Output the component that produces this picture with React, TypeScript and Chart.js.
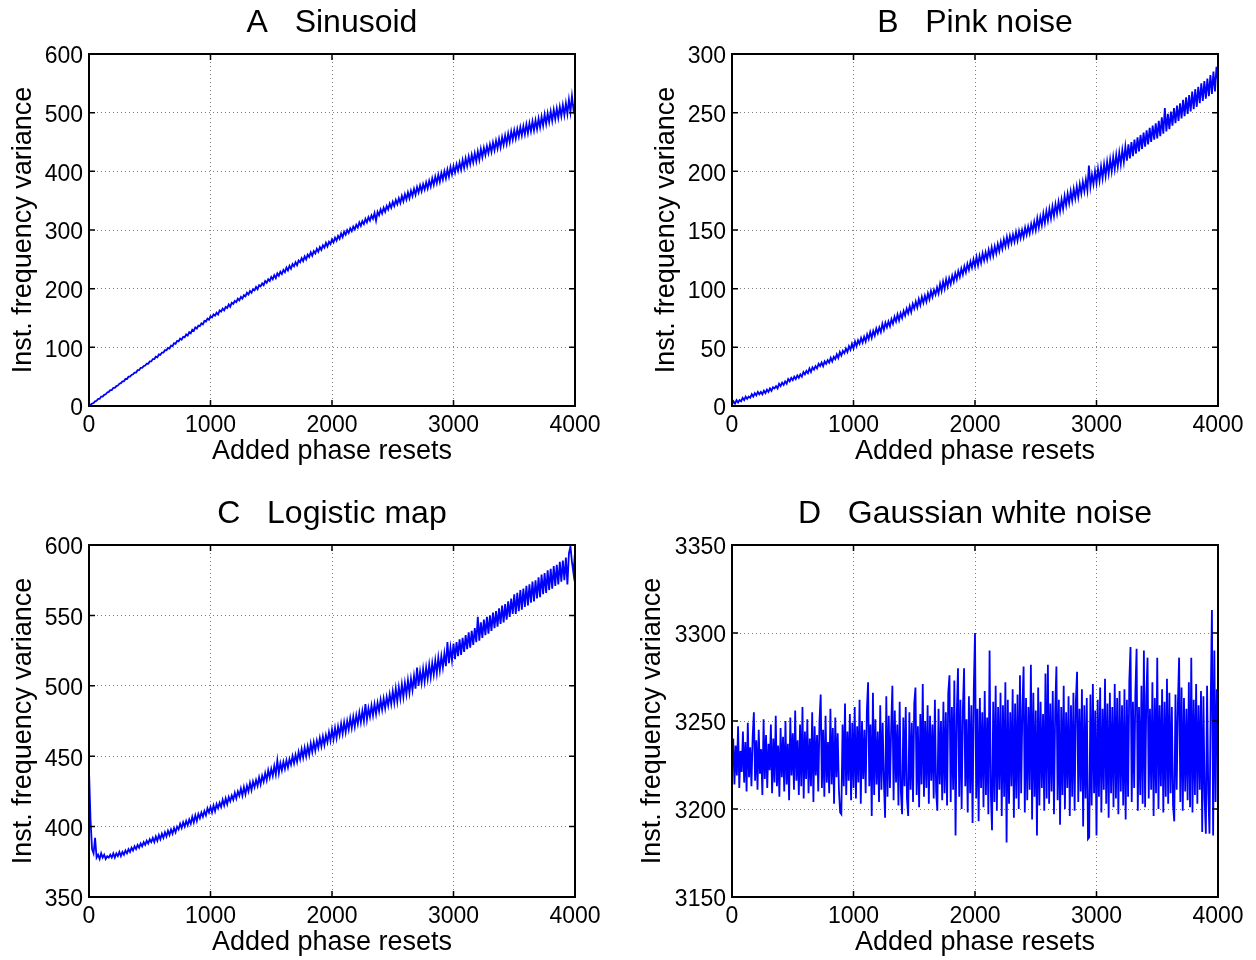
import React, { useEffect, useRef } from "react";
import { Chart, registerables } from "chart.js";

Chart.register(...registerables);

const FONT = '"Liberation Sans", Arial, Helvetica, sans-serif';

const X_MAX = 4000;
const X_STEP = 1000;
const X_LABEL = "Added phase resets";
const Y_LABEL = "Inst. frequency variance";

// Panel A: Sinusoid (samples every 12.5 phase resets)
const sinusoid = [
  0, 2, 4, 5, 8, 9, 12, 12, 16, 16, 19, 20, 23, 24, 27, 27, 31, 31, 34, 35,
  38, 39, 42, 42, 46, 46, 50, 50, 53, 54, 57, 57, 61, 61, 65, 65, 68, 69, 72, 72,
  76, 76, 80, 80, 84, 83, 88, 87, 91, 91, 95, 95, 99, 98, 103, 102, 107, 106, 111, 110,
  115, 113, 118, 117, 122, 120, 126, 124, 130, 128, 134, 132, 137, 136, 141, 139, 145, 144, 149, 147,
  153, 151, 156, 154, 159, 156, 163, 161, 166, 163, 169, 167, 173, 169, 176, 174, 179, 177, 183, 180,
  186, 183, 189, 187, 193, 190, 196, 193, 199, 197, 203, 199, 206, 204, 209, 206, 213, 210, 216, 213,
  220, 216, 223, 218, 226, 222, 229, 225, 232, 228, 236, 231, 239, 234, 242, 238, 245, 240, 248, 245,
  252, 247, 255, 250, 258, 254, 262, 256, 264, 260, 268, 263, 271, 266, 274, 270, 278, 272, 280, 276,
  284, 279, 287, 282, 290, 285, 294, 288, 297, 292, 300, 295, 303, 298, 306, 301, 309, 304, 313, 307,
  315, 310, 319, 313, 322, 316, 325, 319, 329, 316, 331, 325, 335, 328, 338, 331, 341, 335, 345, 338,
  348, 341, 351, 344, 354, 346, 358, 349, 361, 352, 364, 354, 367, 358, 370, 360, 373, 364, 376, 366,
  378, 369, 381, 371, 384, 374, 388, 377, 391, 380, 394, 382, 397, 386, 400, 388, 403, 391, 407, 395,
  409, 398, 412, 401, 415, 403, 419, 406, 422, 409, 425, 412, 428, 415, 431, 417, 434, 420, 438, 424,
  440, 428, 443, 431, 446, 433, 449, 436, 452, 439, 455, 441, 458, 445, 461, 447, 464, 450, 468, 454,
  470, 456, 472, 459, 475, 461, 477, 463, 480, 465, 482, 468, 485, 470, 487, 472, 490, 475, 493, 478,
  497, 481, 499, 484, 502, 486, 505, 489, 507, 491, 510, 494, 513, 496, 516, 498, 522, 501, 528, 505,
  516,
];

// Panel B: Pink noise (samples every 12.5 phase resets)
const pinkNoise = [
  1, 4, 2, 5, 3, 5, 4, 7, 5, 8, 6, 8, 7, 10, 8, 11, 9, 12, 10, 12,
  10, 13, 11, 14, 12, 15, 13, 16, 15, 17, 15, 19, 17, 20, 18, 21, 19, 23, 21, 24,
  22, 25, 23, 26, 24, 27, 25, 29, 27, 30, 28, 32, 29, 33, 31, 34, 32, 36, 34, 37,
  34, 38, 36, 39, 37, 41, 38, 42, 40, 44, 41, 46, 43, 47, 45, 49, 46, 51, 48, 53,
  49, 55, 51, 56, 53, 58, 54, 59, 55, 61, 57, 63, 58, 64, 60, 66, 62, 67, 63, 70,
  65, 71, 67, 72, 68, 74, 70, 76, 72, 78, 73, 79, 75, 81, 77, 83, 79, 85, 80, 87,
  83, 89, 84, 91, 86, 93, 88, 94, 89, 96, 91, 98, 93, 99, 95, 101, 96, 104, 98, 106,
  100, 108, 102, 109, 104, 111, 106, 113, 108, 115, 110, 117, 112, 119, 114, 121, 116, 123, 118, 125,
  119, 127, 120, 128, 122, 130, 124, 131, 125, 133, 127, 135, 128, 136, 130, 138, 132, 140, 134, 142,
  136, 144, 137, 145, 139, 146, 140, 148, 141, 149, 143, 150, 144, 152, 146, 153, 147, 155, 149, 157,
  150, 160, 152, 161, 154, 164, 156, 166, 158, 168, 160, 170, 162, 172, 164, 174, 166, 176, 168, 179,
  171, 181, 173, 183, 175, 185, 177, 187, 178, 189, 181, 191, 183, 193, 184, 205, 187, 197, 189, 200,
  190, 202, 192, 204, 194, 206, 196, 208, 198, 210, 200, 212, 202, 214, 204, 216, 206, 218, 208, 221,
  209, 223, 211, 225, 213, 227, 215, 229, 217, 231, 219, 233, 221, 235, 223, 237, 225, 239, 227, 241,
  228, 243, 230, 246, 232, 254, 234, 249, 236, 251, 239, 254, 241, 256, 243, 258, 245, 261, 247, 263,
  249, 265, 251, 268, 253, 270, 255, 272, 258, 275, 260, 277, 262, 279, 264, 282, 266, 285, 268, 289,
  277,
];

// Panel C: Logistic map (samples every 12.5 phase resets)
const logisticMap = [
  440, 405, 384, 381, 392, 378, 380, 377, 381, 378, 380, 377, 379, 378, 380, 378, 381, 378, 381, 379,
  382, 379, 382, 380, 383, 381, 384, 382, 385, 383, 386, 384, 387, 385, 388, 386, 389, 387, 390, 388,
  391, 389, 392, 389, 393, 390, 394, 391, 395, 392, 396, 393, 397, 394, 398, 395, 399, 396, 400, 398,
  402, 399, 403, 400, 404, 401, 405, 402, 407, 403, 408, 404, 409, 406, 410, 407, 411, 408, 413, 410,
  414, 410, 415, 411, 416, 413, 417, 414, 419, 415, 420, 416, 421, 418, 422, 419, 424, 420, 425, 422,
  427, 422, 428, 423, 429, 425, 431, 426, 432, 428, 433, 429, 435, 430, 436, 432, 438, 433, 440, 435,
  441, 436, 443, 437, 447, 438, 445, 440, 446, 441, 447, 442, 448, 444, 450, 445, 451, 446, 453, 448,
  455, 449, 456, 450, 457, 451, 459, 453, 460, 454, 461, 456, 463, 457, 464, 458, 465, 460, 467, 461,
  469, 462, 470, 463, 471, 465, 473, 466, 474, 467, 475, 469, 477, 470, 478, 471, 479, 473, 481, 474,
  482, 475, 487, 476, 484, 478, 486, 479, 487, 480, 488, 482, 490, 483, 491, 484, 492, 486, 494, 487,
  496, 488, 498, 489, 499, 491, 501, 492, 502, 494, 504, 495, 505, 497, 507, 498, 513, 500, 510, 502,
  512, 503, 513, 505, 515, 506, 516, 508, 518, 509, 520, 511, 521, 513, 523, 514, 531, 516, 527, 518,
  530, 519, 531, 521, 533, 522, 534, 524, 536, 526, 538, 527, 539, 529, 541, 531, 549, 532, 545, 534,
  547, 536, 549, 537, 550, 539, 552, 541, 553, 542, 555, 544, 557, 545, 558, 547, 560, 549, 562, 551,
  565, 551, 566, 553, 568, 554, 569, 556, 571, 557, 572, 559, 574, 560, 575, 562, 577, 563, 579, 565,
  580, 566, 582, 568, 583, 569, 585, 571, 586, 572, 588, 574, 589, 575, 591, 572, 594, 599, 588, 580,
  595,
];

// Panel D: Gaussian white noise (samples every 10 phase resets)
const whiteNoise = [
  3226, 3240, 3214, 3236, 3219, 3247, 3212, 3233, 3221, 3244, 3215, 3238, 3210, 3249, 3218, 3235, 3213, 3241, 3255, 3216,
  3239, 3211, 3245, 3220, 3234, 3208, 3251, 3217, 3242, 3212, 3237, 3222, 3248, 3209, 3240, 3215, 3253, 3213, 3236, 3207,
  3246, 3218, 3241, 3210, 3250, 3214, 3237, 3205, 3252, 3219, 3243, 3211, 3256, 3216, 3239, 3208, 3248, 3213, 3258, 3206,
  3244, 3217, 3251, 3209, 3240, 3213, 3255, 3204, 3247, 3219, 3242, 3210, 3250, 3265, 3212, 3245, 3207, 3253, 3215, 3238,
  3209, 3257, 3214, 3246, 3203, 3252, 3218, 3243, 3211, 3198, 3197, 3248, 3213, 3260, 3208, 3244, 3216, 3254, 3205, 3249,
  3212, 3258, 3206, 3247, 3215, 3262, 3203, 3250, 3217, 3245, 3209, 3256, 3272, 3213, 3248, 3196, 3266, 3208, 3251, 3214,
  3244, 3204, 3259, 3211, 3249, 3216, 3195, 3264, 3207, 3253, 3212, 3246, 3270, 3205, 3256, 3215, 3248, 3202, 3261, 3210,
  3197, 3252, 3213, 3258, 3206, 3196, 3255, 3211, 3249, 3204, 3260, 3269, 3208, 3247, 3201, 3254, 3214, 3271, 3207, 3250,
  3212, 3259, 3203, 3253, 3216, 3248, 3206, 3262, 3210, 3199, 3257, 3214, 3250, 3205, 3261, 3209, 3255, 3202, 3266, 3276,
  3204, 3258, 3211, 3273, 3185, 3254, 3280, 3207, 3262, 3200, 3256, 3280, 3213, 3251, 3198, 3264, 3209, 3259, 3192, 3268,
  3300, 3206, 3257, 3193, 3263, 3212, 3255, 3201, 3267, 3208, 3252, 3197, 3290, 3210, 3188, 3261, 3204, 3270, 3199, 3258,
  3211, 3266, 3196, 3259, 3207, 3272, 3181, 3262, 3203, 3255, 3213, 3268, 3195, 3260, 3206, 3265, 3200, 3276, 3209, 3257,
  3281, 3198, 3263, 3205, 3258, 3211, 3282, 3194, 3266, 3207, 3256, 3185, 3269, 3202, 3261, 3212, 3254, 3199, 3277, 3206,
  3282, 3203, 3260, 3210, 3267, 3197, 3256, 3281, 3205, 3262, 3191, 3258, 3208, 3270, 3200, 3255, 3212, 3264, 3196, 3259,
  3207, 3266, 3199, 3261, 3278, 3204, 3257, 3210, 3268, 3190, 3259, 3206, 3263, 3183, 3184, 3265, 3202, 3271, 3209, 3256,
  3185, 3262, 3207, 3269, 3198, 3257, 3211, 3274, 3203, 3260, 3195, 3266, 3209, 3258, 3201, 3271, 3206, 3263, 3197, 3267,
  3210, 3259, 3202, 3268, 3194, 3262, 3207, 3273, 3292, 3204, 3261, 3212, 3266, 3291, 3199, 3258, 3208, 3270, 3203, 3290,
  3201, 3264, 3286, 3206, 3257, 3211, 3272, 3196, 3263, 3209, 3286, 3200, 3259, 3213, 3268, 3198, 3261, 3207, 3274, 3203,
  3266, 3209, 3258, 3202, 3193, 3265, 3211, 3260, 3286, 3204, 3269, 3199, 3263, 3210, 3257, 3205, 3272, 3201, 3286, 3198,
  3262, 3208, 3271, 3203, 3259, 3211, 3267, 3187, 3264, 3206, 3186, 3270, 3209, 3186, 3261, 3313, 3185, 3290, 3204, 3268,
  3231,
];

const CANVAS_W = 628;
const CANVAS_H = 480;

type Panel = {
  key: string;
  title: string;
  values: number[];
  yMin: number;
  yMax: number;
  yStep: number;
  left: number;
  top: number;
  areaLeft: number;
  areaRight: number;
  areaTop: number;
  areaBottom: number;
  titleMid: number;
  xTitleMid: number;
  yTitleMid: number;
  lineWidth: number;
};

const panels: Panel[] = [
  { key: "A", title: "A   Sinusoid", values: sinusoid, yMin: 0, yMax: 600, yStep: 100,
    left: 0, top: 0, areaLeft: 89, areaRight: 575, areaTop: 54, areaBottom: 406,
    titleMid: 23, xTitleMid: 451.6, yTitleMid: 23.9, lineWidth: 1.8 },
  { key: "B", title: "B   Pink noise", values: pinkNoise, yMin: 0, yMax: 300, yStep: 50,
    left: 628, top: 0, areaLeft: 104, areaRight: 590, areaTop: 54, areaBottom: 406,
    titleMid: 23, xTitleMid: 451.6, yTitleMid: 38.9, lineWidth: 1.8 },
  { key: "C", title: "C   Logistic map", values: logisticMap, yMin: 350, yMax: 600, yStep: 50,
    left: 0, top: 480, areaLeft: 89, areaRight: 575, areaTop: 65, areaBottom: 417,
    titleMid: 34, xTitleMid: 462.6, yTitleMid: 23.9, lineWidth: 1.8 },
  { key: "D", title: "D   Gaussian white noise", values: whiteNoise, yMin: 3150, yMax: 3350, yStep: 50,
    left: 628, top: 480, areaLeft: 104, areaRight: 590, areaTop: 65, areaBottom: 417,
    titleMid: 34, xTitleMid: 462.6, yTitleMid: 24.9, lineWidth: 1.8 },
];

const matlabFrame = {
  id: "matlabFrame",
  afterDraw(chart: any) {
    const { ctx, chartArea } = chart;
    const { left, right, top, bottom } = chartArea;
    const xs = chart.scales.x;
    const ys = chart.scales.y;
    const tl = 6;
    ctx.save();
    ctx.strokeStyle = "#000";
    ctx.lineWidth = 2;
    ctx.strokeRect(left, top, right - left, bottom - top);
    ctx.lineWidth = 1.5;
    ctx.beginPath();
    xs.ticks.forEach((t: any) => {
      const px = xs.getPixelForValue(t.value);
      ctx.moveTo(px, bottom);
      ctx.lineTo(px, bottom - tl);
      ctx.moveTo(px, top);
      ctx.lineTo(px, top + tl);
    });
    ys.ticks.forEach((t: any) => {
      const py = ys.getPixelForValue(t.value);
      ctx.moveTo(left, py);
      ctx.lineTo(left + tl, py);
      ctx.moveTo(right, py);
      ctx.lineTo(right - tl, py);
    });
    ctx.stroke();
    ctx.restore();
  },
};

const plainLabel = (v: any) => String(v);

function PanelChart({ p }: { p: Panel }) {
  const ref = useRef<HTMLCanvasElement | null>(null);

  useEffect(() => {
    if (!ref.current) return;
    const n = p.values.length;
    const points = p.values.map((y, i) => ({ x: (i * X_MAX) / (n - 1), y }));
    const titleLH = 32 * 1.2;
    const titlePadTop = p.titleMid - titleLH / 2;
    const titlePadBottom = p.areaTop - titleLH - titlePadTop;
    const axisLH = 27 * 1.2;
    const xTitlePadBottom = CANVAS_H - p.xTitleMid - axisLH / 2;
    const yTitlePadTop = p.yTitleMid - axisLH / 2;

    const chart = new Chart(ref.current, {
      type: "line",
      data: {
        datasets: [
          {
            data: points,
            borderColor: "#0000ff",
            borderWidth: p.lineWidth,
            borderJoinStyle: "miter",
            pointRadius: 0,
            tension: 0,
            fill: false,
          },
        ],
      },
      options: {
        animation: false,
        responsive: false,
        devicePixelRatio: 1,
        events: [],
        layout: { padding: { left: 0, right: CANVAS_W - p.areaRight, top: 0, bottom: 0 } },
        plugins: {
          legend: { display: false },
          tooltip: { enabled: false },
          title: {
            display: true,
            text: p.title,
            fullSize: false,
            color: "#000",
            font: { family: FONT, size: 32, weight: "normal", lineHeight: 1.2 },
            padding: { top: titlePadTop, bottom: titlePadBottom },
          },
        },
        scales: {
          x: {
            type: "linear",
            min: 0,
            max: X_MAX,
            ticks: {
              stepSize: X_STEP,
              color: "#000",
              font: { family: FONT, size: 23 },
              padding: 6,
              maxRotation: 0,
              autoSkip: false,
              callback: plainLabel,
            },
            grid: { color: "#808080", lineWidth: 1, drawTicks: false },
            border: { display: false, dash: [1, 3] },
            title: {
              display: true,
              text: X_LABEL,
              color: "#000",
              font: { family: FONT, size: 27, lineHeight: 1.2 },
              padding: { top: 0, bottom: xTitlePadBottom },
            },
            afterFit: (s: any) => {
              s.height = CANVAS_H - p.areaBottom;
            },
          },
          y: {
            type: "linear",
            min: p.yMin,
            max: p.yMax,
            ticks: {
              stepSize: p.yStep,
              color: "#000",
              font: { family: FONT, size: 23 },
              padding: 6,
              labelOffset: 3,
              callback: plainLabel,
            },
            grid: { color: "#808080", lineWidth: 1, drawTicks: false },
            border: { display: false, dash: [1, 3] },
            title: {
              display: true,
              text: Y_LABEL,
              color: "#000",
              font: { family: FONT, size: 27, lineHeight: 1.2 },
              padding: { top: yTitlePadTop, bottom: 0 },
            },
            afterFit: (s: any) => {
              s.width = p.areaLeft;
            },
          },
        },
      } as any,
      plugins: [matlabFrame],
    });
    return () => chart.destroy();
  }, [p]);

  return (
    <canvas
      ref={ref}
      width={CANVAS_W}
      height={CANVAS_H}
      style={{ position: "absolute", left: p.left, top: p.top, width: CANVAS_W, height: CANVAS_H, display: "block" }}
    />
  );
}

export default function App() {
  return (
    <div style={{ position: "absolute", left: 0, top: 0, width: 1256, height: 960, background: "#fff" }}>
      {panels.map((p) => (
        <PanelChart key={p.key} p={p} />
      ))}
    </div>
  );
}
